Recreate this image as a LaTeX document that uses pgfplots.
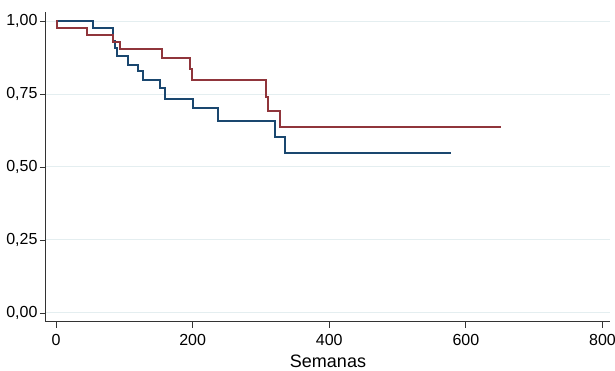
\documentclass[border=0pt]{standalone}
\usepackage{fontspec}
\setmainfont{Liberation Sans}
\usepackage{pgfplots}
\pgfplotsset{compat=1.18}
\definecolor{stnavy}{RGB}{26,71,111}
\definecolor{stmaroon}{RGB}{144,53,59}
\definecolor{gridc}{RGB}{228,238,240}
\begin{document}
\begin{tikzpicture}
\begin{axis}[
  at={(0pt,0pt)}, anchor=south west,
  scale only axis, width=564pt, height=310pt,
  xmin=-14.6, xmax=811, ymin=-0.031, ymax=1.031,
  axis x line*=bottom, axis y line*=left,
  axis line style={-, line width=1pt, color=black!80},
  xtick={0,200,400,600,800},
  ytick={0,0.25,0.5,0.75,1},
  ymajorgrids, major grid style={gridc, line width=1pt},
  tick align=outside, major tick length=6pt,
  tick style={black!80, line width=0.8pt},
  /pgf/number format/assume math mode=true,
  yticklabel style={/pgf/number format/fixed, /pgf/number format/fixed zerofill, /pgf/number format/precision=2, /pgf/number format/use comma, xshift=1pt},
  xticklabel style={/pgf/number format/fixed, /pgf/number format/1000 sep={}, yshift=-3pt},
  ticklabel style={font=\fontsize{16}{18}\selectfont},
  xlabel={Semanas}, xlabel style={font=\fontsize{18}{21}\selectfont, yshift=-2pt},
  clip=false,
]
\addplot[const plot, stnavy, line width=2pt] coordinates {
(0,1.0) (54,0.975) (83,0.93) (86,0.906) (90,0.879) (105,0.850) (120,0.828)
(128,0.799) (152,0.770) (159,0.733) (200,0.701) (237,0.658) (320,0.604)
(335,0.547) (578,0.547)};
\addplot[const plot, stmaroon, line width=2pt] coordinates {
(0,1.0) (1,0.975) (45,0.952) (83,0.927) (93,0.903) (155,0.873) (196,0.836)
(199,0.798) (307,0.739) (311,0.692) (328,0.638) (651,0.638)};
\end{axis}
\pgfresetboundingbox
\path (-46pt,-49pt) rectangle (569pt,322pt);
\end{tikzpicture}
\end{document}
